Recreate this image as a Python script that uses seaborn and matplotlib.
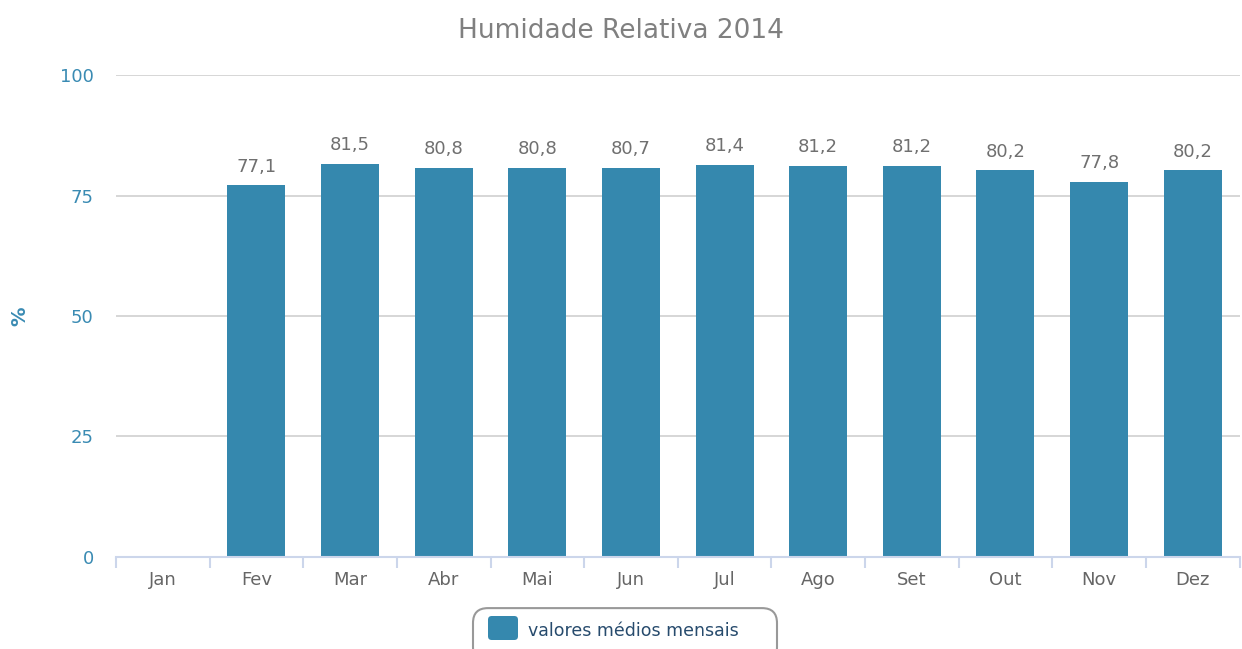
import numpy as np
import pandas as pd
import matplotlib
matplotlib.use("Agg")
import matplotlib.pyplot as plt
import seaborn as sns
from matplotlib.patches import FancyBboxPatch


MONTHS = ["Jan", "Fev", "Mar", "Abr", "Mai", "Jun",
          "Jul", "Ago", "Set", "Out", "Nov", "Dez"]

HUMIDITY = [np.nan, 77.1, 81.5, 80.8, 80.8, 80.7,
            81.4, 81.2, 81.2, 80.2, 77.8, 80.2]

Y_TICKS = [0, 25, 50, 75, 100]

BAR_COLOR = "#3588ae"
AXIS_BLUE = "#3a8bb3"
GRID_COLOR = "#d0d0d0"


def main():

    df = pd.DataFrame({"mes": MONTHS, "valor": HUMIDITY})

    sns.set_style("white")
    plt.rcParams["font.family"] = ["DejaVu Sans"]

    fig = plt.figure(figsize=(12.42, 6.49), dpi=100)
    ax = fig.add_axes([0.0934, 0.1418, 0.9046, 0.7426])

    sns.barplot(
        data=df,
        x="mes",
        y="valor",
        order=MONTHS,
        color=BAR_COLOR,
        saturation=1,
        width=0.62,
        linewidth=0,
        ax=ax,
        zorder=3
    )

    # data labels with decimal comma
    for container in ax.containers:
        labels = [
            "" if np.isnan(v) else f"{v:.1f}".replace(".", ",")
            for v in container.datavalues
        ]
        ax.bar_label(
            container,
            labels=labels,
            padding=7,
            color="#707070",
            fontsize=13
        )

    ax.set_ylim(0, 100)
    ax.set_xlim(-0.5, len(MONTHS) - 0.5)
    ax.set_yticks(Y_TICKS)
    ax.set_yticklabels([str(t) for t in Y_TICKS])

    ax.yaxis.grid(True, color=GRID_COLOR, linewidth=1.2, zorder=0)
    ax.xaxis.grid(False)

    for side in ["top", "right", "left"]:
        ax.spines[side].set_visible(False)
    ax.spines["bottom"].set_color("#ccd6eb")
    ax.spines["bottom"].set_linewidth(1.5)
    ax.spines["bottom"].set_zorder(4)

    ax.tick_params(axis="y", length=0, pad=16,
                   labelcolor=AXIS_BLUE, labelsize=13)
    ax.tick_params(axis="x", which="major", length=0, pad=10,
                   labelcolor="#666666", labelsize=13)

    # minor ticks at category boundaries
    ax.set_xticks(np.arange(-0.5, len(MONTHS), 1.0), minor=True)
    ax.tick_params(axis="x", which="minor", bottom=True, length=8,
                   width=1.5, color="#ccd6eb", direction="out")

    ax.set_xlabel("")
    ax.set_ylabel("%", color=AXIS_BLUE, fontsize=14,
                  fontweight="bold", labelpad=22)

    fig.text(0.5, 0.952, "Humidade Relativa 2014", ha="center",
             va="center", fontsize=19, color="#808080")

    # legend box, cut off at the bottom edge like the reference
    box = FancyBboxPatch(
        (473 / 1242, -0.02), 304 / 1242, 0.083,
        boxstyle="round,pad=0,rounding_size=0.012",
        transform=fig.transFigure,
        facecolor="white",
        edgecolor="#999999",
        linewidth=1.5,
        mutation_aspect=1242 / 649,
        clip_on=False
    )
    fig.patches.append(box)

    swatch = FancyBboxPatch(
        (488 / 1242, (649 - 640) / 649), 30 / 1242, 24 / 649,
        boxstyle="round,pad=0,rounding_size=0.003",
        transform=fig.transFigure,
        facecolor=BAR_COLOR,
        edgecolor="none",
        mutation_aspect=1242 / 649
    )
    fig.patches.append(swatch)

    fig.text(528 / 1242, (649 - 631) / 649, "valores médios mensais",
             ha="left", va="center", fontsize=12.5, color="#274b6d")

    fig.savefig("out.png", dpi=100)


if __name__ == "__main__":
    main()
